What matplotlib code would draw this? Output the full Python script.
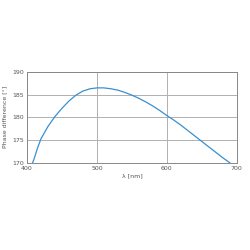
import matplotlib
matplotlib.use("Agg")
import matplotlib.pyplot as plt

wavelength = [408, 410, 415, 420, 430, 440, 450, 460, 470, 480, 490, 500, 510, 520,
              530, 540, 550, 560, 570, 580, 590, 600, 610, 620, 630, 640, 650, 660,
              670, 680, 690]
phase = [170.0, 170.8, 173.2, 175.3, 178.0, 180.2, 182.0, 183.6, 184.9, 185.8, 186.3,
         186.5, 186.5, 186.3, 186.0, 185.5, 184.9, 184.2, 183.4, 182.5, 181.5, 180.4,
         179.4, 178.3, 177.1, 175.9, 174.7, 173.5, 172.3, 171.1, 170.0]
x_ticks = [400, 500, 600, 700]
y_ticks = [170, 175, 180, 185, 190]

fig = plt.figure(figsize=(2.5, 2.5), dpi=100)
ax = fig.add_axes([0.108, 0.349, 0.839, 0.363])
ax.plot(wavelength, phase, color="#3a8fd0", lw=0.9)
ax.set_xlim(400, 700)
ax.set_ylim(170, 190)
ax.set_xticks(x_ticks)
ax.set_yticks(y_ticks)
ax.grid(True, color="#b0b0b0", lw=0.7)
ax.set_axisbelow(True)
for s in ax.spines.values():
    s.set_color("#888888")
    s.set_linewidth(0.7)
ax.tick_params(length=0, labelsize=4.5, colors="#555555", pad=2)
ax.set_xlabel("λ [nm]", fontsize=4.5, color="#555555", labelpad=2)
ax.set_ylabel("Phase difference [°]", fontsize=4.5, color="#555555", labelpad=4)
fig.savefig("out.png", dpi=100)
